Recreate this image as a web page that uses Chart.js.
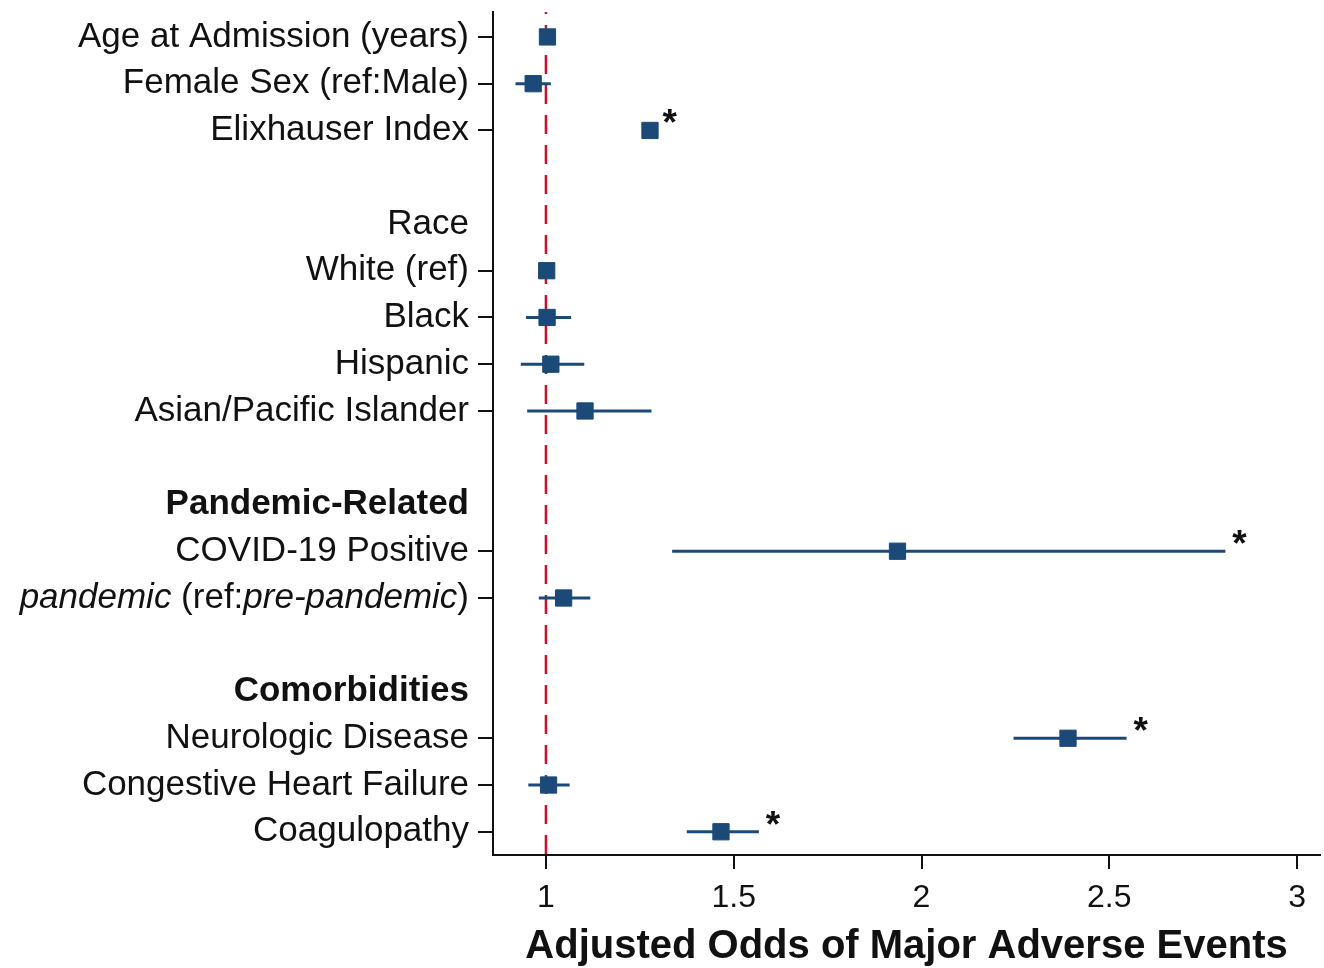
<!DOCTYPE html>
<html lang="en">
<head>
<meta charset="UTF-8">
<script src="https://cdn.jsdelivr.net/npm/chart.js"></script>
<title>Adjusted Odds of Major Adverse Events</title>
<style>
  body { margin: 0; background: #fff; }
  #wrap { width: 1324px; height: 968px; }
</style>
</head>
<body>
<div id="wrap"><canvas id="myChart"></canvas></div>
<script>
// rows from top to bottom; '' is a spacer row, *text* is set in italics
const rowLabels = [
  'Age at Admission (years)', 'Female Sex (ref:Male)', 'Elixhauser Index', '',
  'Race', 'White (ref)', 'Black', 'Hispanic', 'Asian/Pacific Islander', '',
  'Pandemic-Related', 'COVID-19 Positive', '*pandemic* (ref:*pre-pandemic*)', '',
  'Comorbidities', 'Neurologic Disease', 'Congestive Heart Failure', 'Coagulopathy'
];
const boldRows = ['Pandemic-Related', 'Comorbidities'];

const oddsRatio = [1.004, 0.966, 1.277, null, null, 1.002, 1.003, 1.013, 1.104, null, null, 1.936, 1.047, null, null, 2.39, 1.007, 1.466];
const ciLow     = [0.995, 0.919, 1.262, null, null, 1.0, 0.947, 0.933, 0.95, null, null, 1.336, 0.981, null, null, 2.245, 0.953, 1.375];
const ciHigh    = [1.012, 1.013, 1.292, null, null, 1.0, 1.067, 1.102, 1.281, null, null, 2.809, 1.118, null, null, 2.546, 1.063, 1.567];
const significant = [false, false, true, false, false, false, false, false, false, false, false, true, false, false, false, true, false, true];

const xTicks = [1, 1.5, 2, 2.5, 3];
const refValue = 1;

const navy = '#1c4a78';
const labelFont = '"Liberation Sans", Arial, sans-serif';

const points = [];
rowLabels.forEach((lab, i) => {
  if (oddsRatio[i] != null) points.push({x: oddsRatio[i], y: i});
});

const forestExtras = {
  id: 'forestExtras',
  beforeDatasetsDraw(chart) {
    const {ctx, chartArea, scales: {x, y}} = chart;
    ctx.save();
    // reference line at OR = 1
    ctx.strokeStyle = '#c8102e';
    ctx.lineWidth = 2.5;
    ctx.setLineDash([19, 11]);
    ctx.lineDashOffset = 17;
    const rx = x.getPixelForValue(refValue);
    ctx.beginPath();
    ctx.moveTo(rx, chartArea.top);
    ctx.lineTo(rx, chartArea.bottom);
    ctx.stroke();
    ctx.setLineDash([]);
    // confidence intervals
    ctx.strokeStyle = navy;
    ctx.lineWidth = 3;
    rowLabels.forEach((lab, i) => {
      if (ciLow[i] == null) return;
      const py = y.getPixelForValue(i);
      ctx.beginPath();
      ctx.moveTo(x.getPixelForValue(ciLow[i]), py);
      ctx.lineTo(x.getPixelForValue(ciHigh[i]), py);
      ctx.stroke();
    });
    ctx.restore();
  },
  afterDraw(chart) {
    const {ctx, chartArea, scales: {x, y}} = chart;
    ctx.save();
    ctx.fillStyle = '#111';
    ctx.textBaseline = 'middle';
    // row labels (with italic parts)
    const right = chartArea.left - 24;
    rowLabels.forEach((lab, i) => {
      if (!lab) return;
      const py = y.getPixelForValue(i);
      const weight = boldRows.includes(lab) ? 'bold ' : '';
      const parts = lab.split('*');
      const fonts = parts.map((p, k) => (k % 2 ? 'italic ' : '') + weight + '35px ' + labelFont);
      let total = 0;
      parts.forEach((p, k) => { ctx.font = fonts[k]; total += ctx.measureText(p).width; });
      let cx = right - total;
      ctx.textAlign = 'left';
      parts.forEach((p, k) => {
        ctx.font = fonts[k];
        ctx.fillText(p, cx, py);
        cx += ctx.measureText(p).width;
      });
    });
    // x tick labels
    ctx.font = '32px ' + labelFont;
    ctx.textAlign = 'center';
    xTicks.forEach(v => ctx.fillText(String(v), x.getPixelForValue(v), chartArea.bottom + 43));
    // significance stars
    ctx.font = 'bold 37px ' + labelFont;
    ctx.textBaseline = 'alphabetic';
    rowLabels.forEach((lab, i) => {
      if (!significant[i]) return;
      ctx.fillText('*', x.getPixelForValue(ciHigh[i]) + 14, y.getPixelForValue(i) + 5);
    });
    ctx.restore();
  }
};

new Chart(document.getElementById('myChart'), {
  type: 'scatter',
  data: {
    datasets: [{
      data: points,
      pointStyle: 'rect',
      pointRadius: 11.5,
      pointHoverRadius: 11.5,
      backgroundColor: navy,
      borderColor: navy,
      borderWidth: 1
    }]
  },
  options: {
    responsive: true,
    maintainAspectRatio: false,
    animation: false,
    devicePixelRatio: 1,
    layout: { autoPadding: false, padding: { top: 12, right: 4, left: 0, bottom: 0 } },
    plugins: { legend: { display: false }, tooltip: { enabled: false } },
    scales: {
      x: {
        type: 'linear',
        min: 0.859,
        max: 3.061,
        afterBuildTicks: (s) => { s.ticks = xTicks.map(v => ({value: v})); },
        afterFit: (s) => { s.height = 113; },
        ticks: { display: false },
        grid: { drawOnChartArea: false, drawTicks: true, tickLength: 14, color: '#111', lineWidth: 2 },
        border: { color: '#111', width: 2 },
        title: {
          display: true,
          text: 'Adjusted Odds of Major Adverse Events',
          color: '#111',
          padding: { top: 0, bottom: 0 },
          font: { family: labelFont, size: 40, weight: 'bold', lineHeight: 1.05 }
        }
      },
      y: {
        type: 'linear',
        reverse: true,
        min: -0.533,
        max: 17.497,
        afterBuildTicks: (s) => { s.ticks = rowLabels.map((l, i) => ({value: i})); },
        afterFit: (s) => { s.width = 493; },
        ticks: { display: false },
        grid: {
          drawOnChartArea: false,
          drawTicks: true,
          tickLength: 15,
          lineWidth: 2,
          color: (c) => (c.tick && oddsRatio[c.tick.value] != null) ? '#111' : 'rgba(0,0,0,0)'
        },
        border: { color: '#111', width: 2 }
      }
    }
  },
  plugins: [forestExtras]
});
</script>
</body>
</html>
